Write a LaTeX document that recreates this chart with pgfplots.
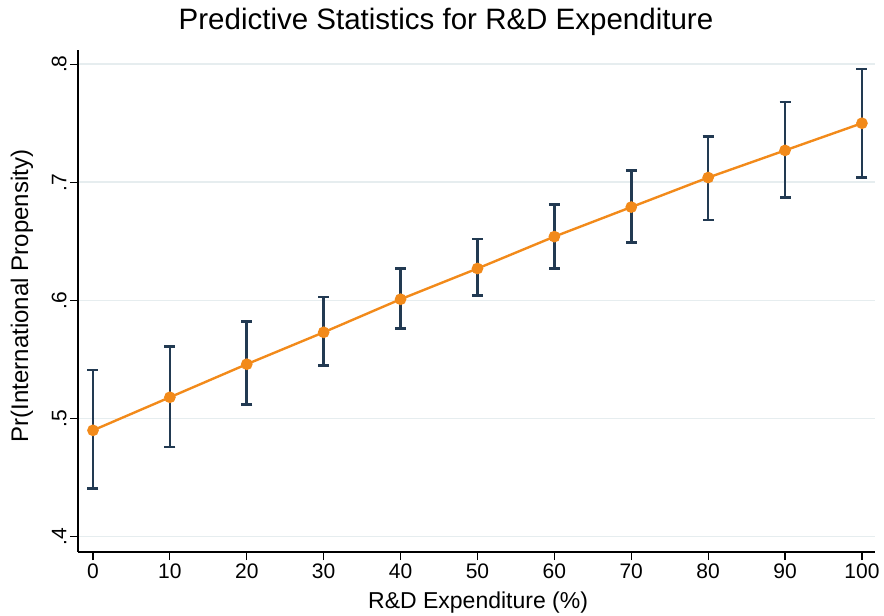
\documentclass[border=0pt]{standalone}
\usepackage{pgfplots}
\pgfplotsset{compat=1.18}
\usepackage{pgfplotstable}
\usepackage{fontspec}
\setmainfont{Liberation Sans}

\definecolor{lineorange}{HTML}{F28A1A}
\definecolor{barnavy}{HTML}{223A52}
\definecolor{gridgray}{HTML}{E6EDEF}

% predicted probability with lower and upper confidence limits
\pgfplotstableread{
x   y     lo    hi
0   0.490 0.441 0.541
10  0.518 0.476 0.561
20  0.546 0.512 0.582
30  0.573 0.545 0.603
40  0.601 0.576 0.627
50  0.627 0.604 0.652
60  0.654 0.627 0.681
70  0.679 0.649 0.710
80  0.704 0.668 0.739
90  0.727 0.687 0.768
100 0.750 0.704 0.796
}\margins

\begin{document}
\begin{tikzpicture}
\path[use as bounding box] (0,0) rectangle (884pt,616pt);
\begin{axis}[
  at={(78pt,64pt)}, anchor=south west,
  scale only axis, width=797pt, height=502pt,
  xmin=-1.95, xmax=101.7, ymin=0.387, ymax=0.812,
  axis lines*=left,
  axis line style={line width=1.2pt, black},
  tick align=outside, major tick length=8pt,
  tick style={line width=1.2pt, black},
  xtick={0,10,...,100},
  ytick={0.4,0.5,0.6,0.7,0.8},
  yticklabels={.4,.5,.6,.7,.8},
  /pgf/number format/assume math mode=true,
  ticklabel style={font=\fontsize{21}{25}\selectfont},
  yticklabel style={rotate=90, anchor=south},
  ymajorgrids,
  grid style={line width=1.6pt, gridgray},
  title={Predictive Statistics for R\&D Expenditure},
  title style={font=\fontsize{29.5}{34}\selectfont, at={(axis description cs:0.4617,1.044)}, anchor=center},
  xlabel={R\&D Expenditure (\%)},
  xlabel style={font=\fontsize{23}{27}\selectfont, at={(axis description cs:0.502,-0.1016)}, anchor=center},
  ylabel={Pr(International Propensity)},
  ylabel style={font=\fontsize{24}{28}\selectfont, at={(axis description cs:-0.0703,0.51)}, anchor=center},
]
% confidence intervals with capped ends
\addplot[draw=none, mark=none, forget plot,
  error bars/.cd, y dir=both, y explicit,
  error mark=|,
  error bar style={draw=barnavy, line width=2.6pt},
  error mark options={draw=barnavy, line width=2.6pt, mark size=5.5pt}]
  table[x=x, y=y, y error plus expr=\thisrow{hi}-\thisrow{y},
        y error minus expr=\thisrow{y}-\thisrow{lo}] {\margins};
% predicted values
\addplot[lineorange, line width=2.4pt, mark=*, mark size=4.6pt,
  mark options={fill=lineorange, draw=none}]
  table[x=x, y=y] {\margins};
\end{axis}
\end{tikzpicture}
\end{document}
